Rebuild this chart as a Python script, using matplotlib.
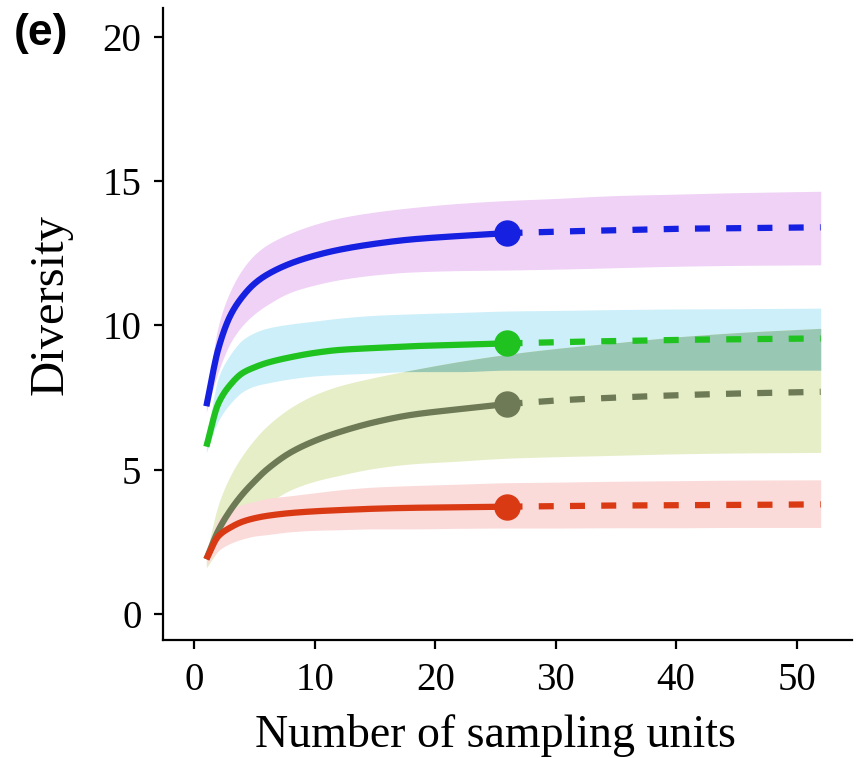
import numpy as np
import matplotlib
matplotlib.use("Agg")
import matplotlib.pyplot as plt

# ---- data ----
x_rare = [1, 2, 3, 4, 5, 6, 8, 10, 12, 15, 18, 22, 26]
x_extr = [26, 30, 35, 40, 45, 52]

blue_rare = [7.2, 9.2, 10.35, 11.0, 11.45, 11.75, 12.15, 12.42, 12.62, 12.83, 12.98, 13.1, 13.2]
blue_extr = [13.2, 13.25, 13.3, 13.35, 13.37, 13.4]
blue_lo = [7.0, 8.4, 9.4, 10.0, 10.4, 10.7, 11.15, 11.4, 11.58, 11.75, 11.85, 11.9, 11.92, 11.95, 12.0, 12.05, 12.08, 12.1]
blue_hi = [7.4, 10.0, 11.2, 11.95, 12.45, 12.78, 13.2, 13.5, 13.72, 13.93, 14.08, 14.23, 14.33, 14.4, 14.5, 14.55, 14.6, 14.65]

green_rare = [5.8, 7.3, 7.95, 8.35, 8.55, 8.7, 8.9, 9.05, 9.15, 9.22, 9.28, 9.33, 9.38]
green_extr = [9.38, 9.42, 9.46, 9.5, 9.52, 9.55]
green_lo = [5.6, 6.7, 7.3, 7.7, 7.9, 8.0, 8.15, 8.25, 8.3, 8.35, 8.4, 8.4, 8.45, 8.45, 8.45, 8.45, 8.45, 8.45]
green_hi = [6.0, 8.2, 9.0, 9.5, 9.75, 9.9, 10.05, 10.15, 10.25, 10.35, 10.4, 10.45, 10.5, 10.52, 10.55, 10.57, 10.58, 10.6]

gray_rare = [1.9, 2.9, 3.6, 4.15, 4.6, 5.0, 5.6, 6.0, 6.3, 6.65, 6.9, 7.1, 7.28]
gray_extr = [7.28, 7.4, 7.5, 7.58, 7.64, 7.7]
gray_lo = [1.6, 2.2, 2.7, 3.1, 3.5, 3.8, 4.3, 4.6, 4.8, 5.05, 5.2, 5.3, 5.4, 5.45, 5.5, 5.55, 5.58, 5.6]
gray_hi = [2.1, 3.8, 4.8, 5.5, 6.05, 6.5, 7.15, 7.6, 7.9, 8.2, 8.45, 8.75, 9.0, 9.2, 9.4, 9.6, 9.75, 9.9]

red_rare = [1.9, 2.7, 3.0, 3.2, 3.32, 3.4, 3.5, 3.56, 3.6, 3.65, 3.68, 3.7, 3.72]
red_extr = [3.72, 3.74, 3.76, 3.77, 3.78, 3.8]
red_lo = [1.7, 2.2, 2.45, 2.6, 2.7, 2.75, 2.85, 2.9, 2.92, 2.95, 2.95, 2.97, 2.98, 2.98, 2.99, 2.99, 3.0, 3.0]
red_hi = [2.1, 3.3, 3.6, 3.8, 3.9, 4.0, 4.1, 4.2, 4.3, 4.4, 4.45, 4.5, 4.55, 4.57, 4.6, 4.62, 4.64, 4.65]

xticks = [0, 10, 20, 30, 40, 50]
yticks = [0, 5, 10, 15, 20]
xlabel = "Number of sampling units"
ylabel = "Diversity"
panel = "(e)"

# ---- styling ----
fig = plt.figure(figsize=(8.6, 7.58), dpi=100)
ax = fig.add_axes([163/860, 1-640/758, (852-163)/860, (640-8)/758])

x_all = np.array(x_rare + x_extr[1:], dtype=float)

def smooth(xs, ys, n=400):
    xs = np.asarray(xs, float); ys = np.asarray(ys, float)
    xx = np.linspace(xs[0], xs[-1], n)
    h = np.diff(xs); d = np.diff(ys) / h
    m = np.zeros_like(ys)
    for i in range(1, len(xs)-1):
        if d[i-1]*d[i] > 0:
            w1 = 2*h[i] + h[i-1]; w2 = h[i] + 2*h[i-1]
            m[i] = (w1 + w2) / (w1/d[i-1] + w2/d[i])
    m[0] = d[0]; m[-1] = d[-1]
    idx = np.clip(np.searchsorted(xs, xx) - 1, 0, len(xs)-2)
    t = (xx - xs[idx]) / h[idx]
    h00 = 2*t**3 - 3*t**2 + 1; h10 = t**3 - 2*t**2 + t
    h01 = -2*t**3 + 3*t**2; h11 = t**3 - t**2
    yy = h00*ys[idx] + h10*h[idx]*m[idx] + h01*ys[idx+1] + h11*h[idx]*m[idx+1]
    return xx, yy

band_specs = [
    (blue_lo, blue_hi, "#f0d2f6"),
    (green_lo, green_hi, "#cdeff9"),
    (gray_lo, gray_hi, "#e6eec8"),
    (red_lo, red_hi, "#fbdada"),
]
smoothed = []
for lo, hi, c in band_specs:
    xx, ylo = smooth(x_all, lo)
    _, yhi = smooth(x_all, hi)
    smoothed.append((xx, ylo, yhi))
    ax.fill_between(xx, ylo, yhi, color=c, lw=0, zorder=1)

# overlap of cyan and olive bands
xx, glo, ghi = smoothed[1]
_, olo, ohi = smoothed[2]
top = np.minimum(ghi, ohi); bot = np.maximum(glo, olo)
ax.fill_between(xx, bot, top, where=top > bot, color="#98c7b3", lw=0, zorder=1.5, interpolate=True)

line_specs = [
    (blue_rare, blue_extr, "#1620e0"),
    (green_rare, green_extr, "#1fc21f"),
    (gray_rare, gray_extr, "#6d7a55"),
    (red_rare, red_extr, "#d93a14"),
]
for rare, extr, c in line_specs:
    xr, yr = smooth(x_rare, rare)
    ax.plot(xr, yr, color=c, lw=4.5, solid_capstyle="butt", zorder=3)
    xe, ye = smooth(x_extr, extr)
    ax.plot(xe, ye, color=c, lw=4.5, ls=(0, (2.4, 2.6)), dash_capstyle="butt", zorder=3)
    ax.plot([x_rare[-1]], [rare[-1]], "o", color=c, ms=18, zorder=4)

ax.set_xlim(-2.6, 54.6)
ax.set_ylim(-0.9, 21.0)
ax.set_xticks(xticks)
ax.set_yticks(yticks)
for s in ["top", "right"]:
    ax.spines[s].set_visible(False)
for s in ["left", "bottom"]:
    ax.spines[s].set_linewidth(1.6)
ax.tick_params(axis="both", direction="out", length=6.5, width=1.6, labelsize=28, pad=9)
for lab in ax.get_xticklabels() + ax.get_yticklabels():
    lab.set_fontfamily("Liberation Serif")
ax.set_xlabel(xlabel, fontsize=33, fontfamily="Liberation Serif")
ax.xaxis.set_label_coords((495-163)/689, (640-714)/632)
ax.set_ylabel(ylabel, fontsize=35, fontfamily="Liberation Serif")
ax.yaxis.set_label_coords((73-163)/689, (640-305)/632)
fig.text(14/860, 1-34/758, panel, fontsize=32, fontweight="bold", fontfamily="Liberation Sans",
         ha="left", va="center")

fig.savefig("out.png", dpi=100)
